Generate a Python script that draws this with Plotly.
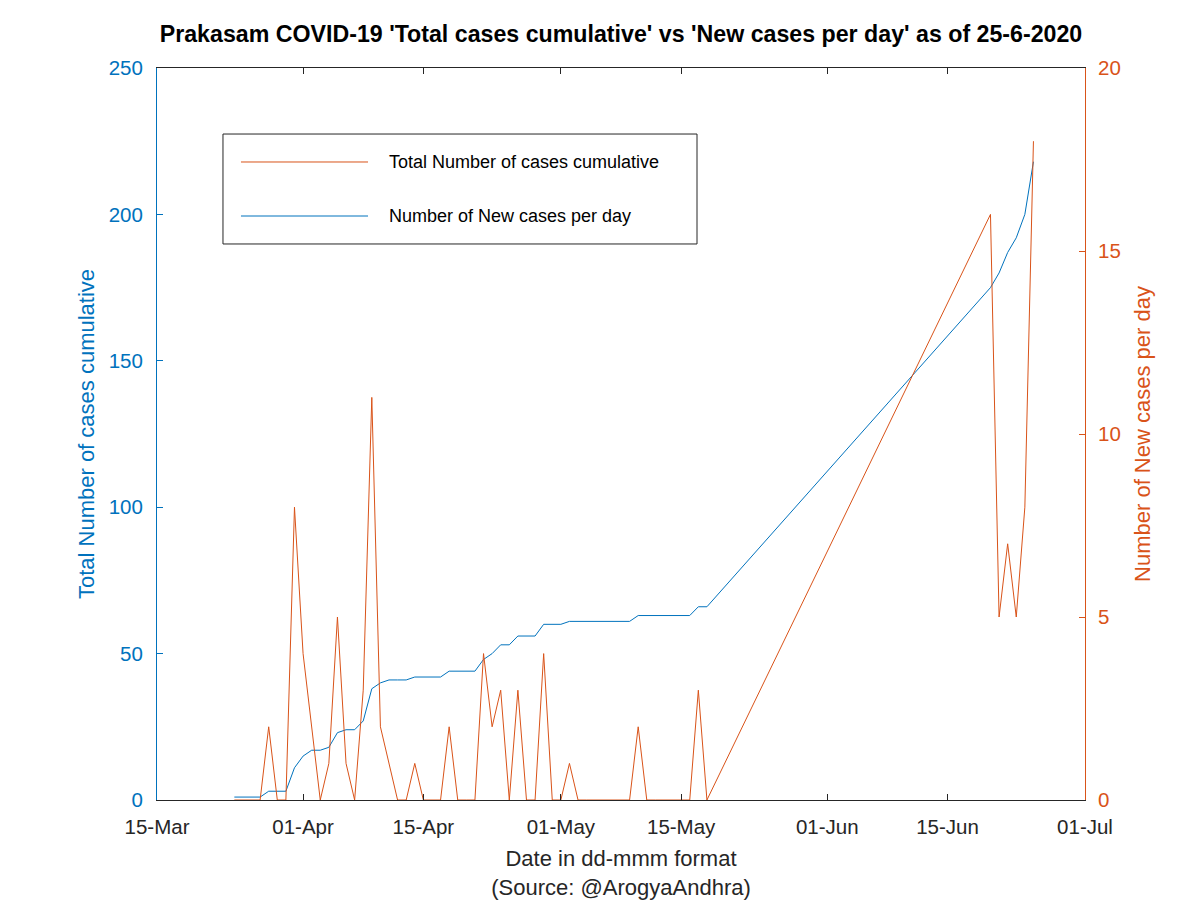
import plotly.graph_objects as go

# ---- data ----
dates = [
    "2020-03-24", "2020-03-25", "2020-03-26", "2020-03-27", "2020-03-28", "2020-03-29",
    "2020-03-30", "2020-03-31", "2020-04-01", "2020-04-02", "2020-04-03", "2020-04-04",
    "2020-04-05", "2020-04-06", "2020-04-07", "2020-04-08", "2020-04-09", "2020-04-10",
    "2020-04-11", "2020-04-12", "2020-04-13", "2020-04-14", "2020-04-15", "2020-04-16",
    "2020-04-17", "2020-04-18", "2020-04-19", "2020-04-20", "2020-04-21", "2020-04-22",
    "2020-04-23", "2020-04-24", "2020-04-25", "2020-04-26", "2020-04-27", "2020-04-28",
    "2020-04-29", "2020-04-30", "2020-05-01", "2020-05-02", "2020-05-03", "2020-05-04",
    "2020-05-05", "2020-05-06", "2020-05-07", "2020-05-08", "2020-05-09", "2020-05-10",
    "2020-05-11", "2020-05-12", "2020-05-13", "2020-05-14", "2020-05-15", "2020-05-16",
    "2020-05-17", "2020-05-18",
    "2020-06-20", "2020-06-21", "2020-06-22", "2020-06-23", "2020-06-24", "2020-06-25",
]
cumulative_cases = [
    1, 1, 1, 1, 3, 3,
    3, 11, 15, 17, 17, 18,
    23, 24, 24, 27, 38, 40,
    41, 41, 41, 42, 42, 42,
    42, 44, 44, 44, 44, 48,
    50, 53, 53, 56, 56, 56,
    60, 60, 60, 61, 61, 61,
    61, 61, 61, 61, 61, 63,
    63, 63, 63, 63, 63, 63,
    66, 66,
    175, 180, 187, 192, 200, 218,
]
new_cases = [
    0, 0, 0, 0, 2, 0,
    0, 8, 4, 2, 0, 1,
    5, 1, 0, 3, 11, 2,
    1, 0, 0, 1, 0, 0,
    0, 2, 0, 0, 0, 4,
    2, 3, 0, 3, 0, 0,
    4, 0, 0, 1, 0, 0,
    0, 0, 0, 0, 0, 2,
    0, 0, 0, 0, 0, 0,
    3, 0,
    16, 5, 7, 5, 8, 18,
]
tick_dates = ["2020-03-15", "2020-04-01", "2020-04-15", "2020-05-01",
              "2020-05-15", "2020-06-01", "2020-06-15", "2020-07-01"]
tick_labels = ["15-Mar", "01-Apr", "15-Apr", "01-May", "15-May", "01-Jun", "15-Jun", "01-Jul"]
legend_labels = ["Total Number of cases cumulative", "Number of New cases per day"]

BLUE = "#0072BD"
ORANGE = "#D95319"
DARK = "#262626"
FONT = "Liberation Sans, Arial, sans-serif"

fig = go.Figure()
fig.add_trace(go.Scatter(
    x=dates, y=cumulative_cases, mode="lines", name=legend_labels[1],
    line=dict(color=BLUE, width=1), showlegend=False,
))
fig.add_trace(go.Scatter(
    x=dates, y=new_cases, mode="lines", name=legend_labels[0],
    line=dict(color=ORANGE, width=1), yaxis="y2", showlegend=False,
))

# Legend drawn as a boxed key (paper coordinates) to match the reference's wide layout
lx0, lx1, ly0, ly1 = 0.0711, 0.5819, 0.7596, 0.9098
row_y = [0.8716, 0.7978]
row_col = [ORANGE, BLUE]
shapes = [dict(type="rect", xref="paper", yref="paper", x0=lx0, x1=lx1, y0=ly0, y1=ly1,
               line=dict(color=DARK, width=1), fillcolor="white", layer="above")]
annotations = []
for lab, yy, col in zip(legend_labels, row_y, row_col):
    shapes.append(dict(type="line", xref="paper", yref="paper", x0=0.0905, x1=0.2274,
                       y0=yy, y1=yy, line=dict(color=col, width=1), layer="above"))
    annotations.append(dict(text=lab, xref="paper", yref="paper", x=0.248, y=yy,
                            xanchor="left", yanchor="middle", showarrow=False,
                            font=dict(family=FONT, size=18, color="black")))

fig.update_layout(
    width=1200, height=900,
    margin=dict(l=149, r=123, t=60, b=108),
    paper_bgcolor="white", plot_bgcolor="white",
    font=dict(family=FONT, size=20, color=DARK),
    showlegend=False,
    shapes=shapes, annotations=annotations,
    title=dict(
        text="<b>Prakasam COVID-19 'Total cases cumulative' vs 'New cases per day' as of 25-6-2020</b>",
        x=0.5, xref="paper", xanchor="center",
        y=1 - 26 / 900, yref="container", yanchor="middle",
        font=dict(family=FONT, size=23.2, color="black"),
    ),
    xaxis=dict(
        type="date", range=["2020-03-15", "2020-07-01"],
        tickvals=tick_dates, ticktext=tick_labels,
        ticks="inside", ticklen=6, tickcolor=DARK, tickwidth=1,
        showline=True, linecolor=DARK, linewidth=1, mirror="ticks",
        showgrid=False, zeroline=False, ticklabelstandoff=8,
        tickfont=dict(size=20.5, color=DARK),
        title=dict(text="Date in dd-mmm format<br>(Source: @ArogyaAndhra)",
                   font=dict(size=22, color=DARK), standoff=14),
    ),
    yaxis=dict(
        range=[0, 250], dtick=50,
        ticks="inside", ticklen=6, tickcolor=BLUE,
        showline=True, linecolor=BLUE, linewidth=1,
        showgrid=False, zeroline=False, ticklabelstandoff=9,
        tickfont=dict(size=20.5, color=BLUE),
        title=dict(text="Total Number of cases cumulative", font=dict(size=22, color=BLUE), standoff=7),
    ),
    yaxis2=dict(
        range=[0, 20], dtick=5, overlaying="y", side="right",
        ticks="inside", ticklen=6, tickcolor=ORANGE,
        showline=True, linecolor=ORANGE, linewidth=1,
        showgrid=False, zeroline=False, ticklabelstandoff=8,
        tickfont=dict(size=20.5, color=ORANGE),
        title=dict(text="Number of New cases per day", font=dict(size=22, color=ORANGE), standoff=14),
    ),
)

fig.write_html("out.html")
